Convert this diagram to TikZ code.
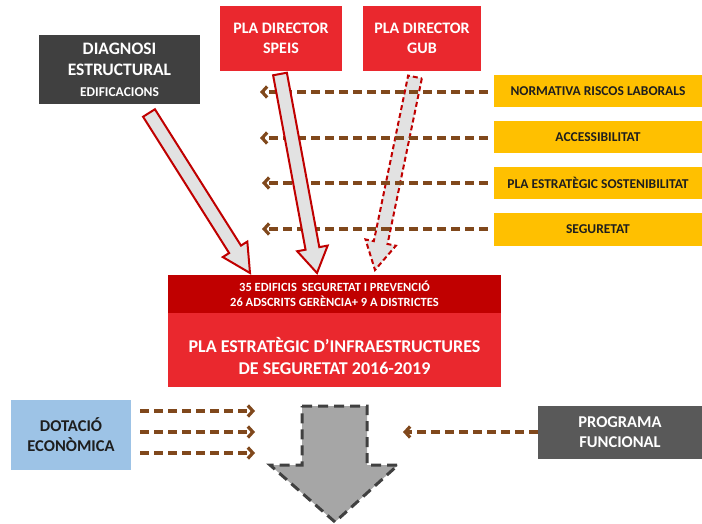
\documentclass[tikz,border=0pt]{standalone}
\usepackage{fontspec}
\setmainfont{Carlito}
\usetikzlibrary{arrows.meta,calc}
\definecolor{darkbox}{RGB}{64,64,64}
\definecolor{progbox}{RGB}{89,89,89}
\definecolor{redbox}{RGB}{234,40,46}
\definecolor{darkred}{RGB}{192,0,0}
\definecolor{yell}{RGB}{255,192,0}
\definecolor{lblue}{RGB}{157,195,230}
\definecolor{dbrown}{RGB}{128,72,28}
\definecolor{arrowfill}{RGB}{226,226,226}
\definecolor{bigfill}{RGB}{166,166,166}
\definecolor{darktext}{RGB}{30,30,30}
\newcommand\blockarr[6]{%
  \coordinate (#2-neck) at ($(#3)!#6!(#2)$);
  \path[#1] ($(#2)!#4!90:(#3)$) -- ($(#2-neck)!#4!90:(#3)$) -- ($(#2-neck)!#5!90:(#3)$)
    -- (#3) -- ($(#2-neck)!#5!-90:(#3)$) -- ($(#2-neck)!#4!-90:(#3)$)
    -- ($(#2)!#4!-90:(#3)$) -- cycle;}
\begin{document}
\begin{tikzpicture}[x=1pt,y=-1pt,font=\bfseries,
  box/.style={inner sep=0pt,align=center},
  ybox/.style={box,fill=yell,text=darktext,minimum width=208pt,minimum height=32pt,
     font=\bfseries\fontsize{13.5}{16}\selectfont},
  hdash/.style={draw=dbrown,line width=3.2pt,dash pattern=on 9pt off 5pt,
     -{Straight Barb[length=5pt,width=11pt]}},
  redarrow/.style={fill=arrowfill,draw=darkred,line width=2pt,line join=miter},
  redarrowdash/.style={redarrow,dash pattern=on 5pt off 3pt},
  bigarrow/.style={fill=bigfill,draw=darkbox,line width=3pt,dash pattern=on 10pt off 6pt,line join=miter}
]
\useasboundingbox (0,0) rectangle (702,524);

% top boxes
\node[box,fill=darkbox,text=white,minimum width=161pt,minimum height=69pt,
  font=\bfseries\fontsize{17.5}{21}\selectfont] (diag) at (119.5,69.5)
  {DIAGNOSI\\ESTRUCTURAL\\{\fontsize{13.5}{16}\selectfont EDIFICACIONS}};
\node[box,fill=redbox,text=white,minimum width=122pt,minimum height=65pt,
  font=\bfseries\fontsize{16}{20}\selectfont] (speis) at (281,38.5) {PLA DIRECTOR\\SPEIS};
\node[box,fill=redbox,text=white,minimum width=118pt,minimum height=65pt,
  font=\bfseries\fontsize{16}{20}\selectfont] (gub) at (422,38.5) {PLA DIRECTOR\\GUB};

% yellow boxes
\node[ybox] (nrl) at (598,91.5) {NORMATIVA RISCOS LABORALS};
\node[ybox] (acc) at (598,137.5) {ACCESSIBILITAT};
\node[ybox] (pes) at (598,183) {PLA ESTRATÈGIC SOSTENIBILITAT};
\node[ybox] (seg) at (598,229.5) {SEGURETAT};

% central plan
\node[box,fill=darkred,text=white,minimum width=333pt,minimum height=38pt,
  font=\bfseries\fontsize{12.5}{15}\selectfont] (band) at (334.5,294)
  {35 EDIFICIS \,SEGURETAT I PREVENCIÓ\\26 ADSCRITS GERÈNCIA+ 9 A DISTRICTES};
\node[box,fill=redbox,minimum width=333pt,minimum height=74pt] (plan) at (334.5,350) {};
\node[box,text=white,font=\bfseries\fontsize{18}{21.5}\selectfont] (plantitle) at (334.5,356)
  {PLA ESTRATÈGIC D’INFRAESTRUCTURES\\DE SEGURETAT 2016-2019};

% GUB arrow (under the dashed lines)
\coordinate (gubT) at (415,77);
\coordinate (gubP) at (375,270);
\blockarr{redarrowdash}{gubT}{gubP}{7pt}{15.5pt}{28pt}

% dashed lines from yellow boxes
\coordinate (nrlE) at (260,92);
\coordinate (accE) at (260,138);
\coordinate (pesE) at (262,183);
\coordinate (segE) at (262,229);
\draw[hdash] ([xshift=-6pt]nrl.west |- nrlE) -- (nrlE);
\draw[hdash] ([xshift=-6pt]acc.west |- accE) -- (accE);
\draw[hdash] ([xshift=-6pt]pes.west |- pesE) -- (pesE);
\draw[hdash] ([xshift=-6pt]seg.west |- segE) -- (segE);

% solid block arrows
\coordinate (diagT) at (149,113);
\coordinate (diagP) at (250,273);
\blockarr{redarrow}{diagT}{diagP}{7pt}{14.5pt}{28pt}
\coordinate (speisT) at (280,74);
\coordinate (speisP) at (317,273);
\blockarr{redarrow}{speisT}{speisP}{7pt}{15.5pt}{25pt}

% bottom
\node[box,fill=lblue,text=darktext,minimum width=120pt,minimum height=70pt,
  font=\bfseries\fontsize{16.5}{20}\selectfont] (dot) at (71,435) {DOTACIÓ\\ECONÒMICA};
\node[box,fill=progbox,text=white,minimum width=164pt,minimum height=53pt,
  font=\bfseries\fontsize{16.5}{20}\selectfont] (prog) at (620,432.5) {PROGRAMA\\FUNCIONAL};

\coordinate (b1) at (255,411);
\coordinate (b2) at (255,432);
\coordinate (b3) at (255,453);
\draw[hdash] ([xshift=9pt]dot.east |- b1) -- (b1);
\draw[hdash] ([xshift=9pt]dot.east |- b2) -- (b2);
\draw[hdash] ([xshift=9pt]dot.east |- b3) -- (b3);

\coordinate (progE) at (403,432);
\draw[hdash] (prog.west |- progE) -- (progE);

\coordinate (bigtip) at (335,522);
\path[bigarrow] (302,406) -- (367,406) -- (367,465) -- (398,465) -- (bigtip)
  -- (270,465) -- (302,465) -- cycle;
\end{tikzpicture}
\end{document}
